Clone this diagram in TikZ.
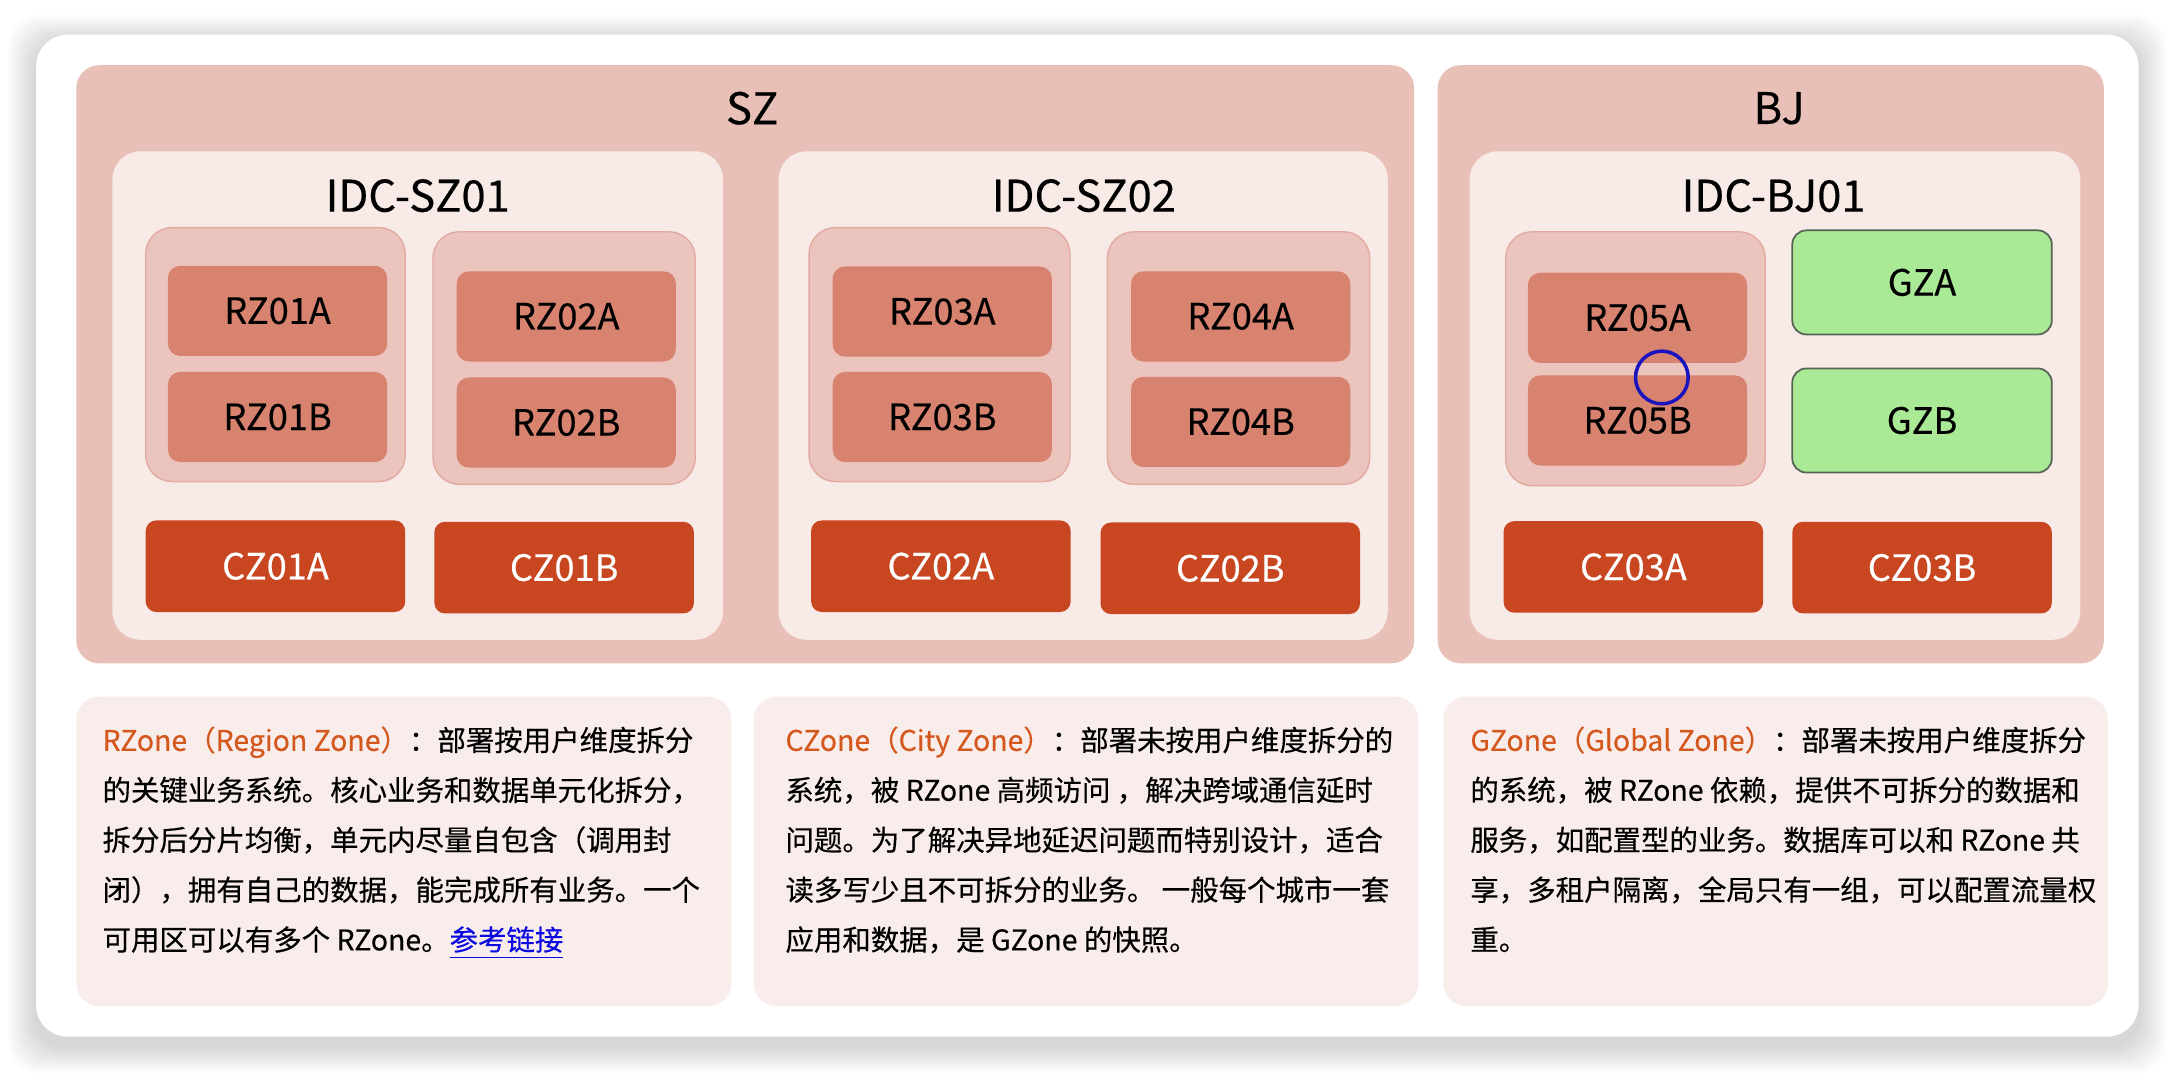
\documentclass[tikz,border=0pt]{standalone}
\usepackage{fontspec}
\setmainfont{Noto Sans CJK SC}[FakeBold=0.35]
\usepackage{tikz}
\usetikzlibrary{positioning}
\definecolor{roseregion}{RGB}{232,192,183}
\definecolor{roseidc}{RGB}{248,234,231}
\definecolor{rosegrp}{RGB}{235,197,189}
\definecolor{bordgrp}{RGB}{226,170,160}
\definecolor{rougerz}{RGB}{216,130,112}
\definecolor{rougecz}{RGB}{200,71,33}
\definecolor{vertgz}{RGB}{170,233,150}
\definecolor{bordgz}{RGB}{85,100,85}
\definecolor{rosedesc}{RGB}{249,237,235}
\definecolor{orangetxt}{RGB}{212,88,30}
\definecolor{bleulien}{RGB}{10,10,225}
\definecolor{bleurond}{RGB}{25,20,190}

\def\px{0.01388cm}
\newcommand\descfont{\fontsize{8.1}{14.2}\selectfont}
\newcommand\boxfont{\fontsize{10.3}{12}\selectfont}

\tikzset{
  region/.style={fill=roseregion,rounded corners=6.5pt},
  idc/.style={fill=roseidc,rounded corners=8pt},
  grp/.style={fill=rosegrp,draw=bordgrp,line width=0.4pt,rounded corners=7.5pt},
  rzbox/.style={fill=rougerz,rounded corners=3.5pt,minimum width=158*\px,minimum height=65*\px,font=\boxfont},
  czbox/.style={fill=rougecz,text=white,rounded corners=3pt,minimum width=187*\px,minimum height=66*\px,font=\boxfont},
  gzbox/.style={fill=vertgz,draw=bordgz,line width=0.5pt,rounded corners=4pt,minimum width=187*\px,minimum height=75*\px,font=\boxfont},
  titre/.style={font=\fontsize{12.4}{14}\selectfont},
  desc/.style={fill=rosedesc,rounded corners=6.5pt},
  desctxt/.style={anchor=north west,inner sep=0pt,align=left,font=\descfont},
}

\begin{document}
\begin{tikzpicture}[x=\px,y=-\px]
  \useasboundingbox (0,0) rectangle (1568,774);
  \fill[white] (0,0) rectangle (1568,774);
  % soft shadow under the card
  \foreach \s in {2,4,...,20}{\fill[black,opacity=0.014,rounded corners=9pt] (26-\s,25-\s+6) rectangle (1541+\s,747+\s+6);}
  \fill[white,rounded corners=9pt] (26,25) rectangle (1541,747);

  % regions and IDCs
  \fill[region] (55,47) rectangle (1019,478);
  \fill[region] (1036,47) rectangle (1516,478);
  \fill[idc] (81,109) rectangle (521,461);
  \fill[idc] (561,109) rectangle (1000,461);
  \fill[idc] (1059,109) rectangle (1499,461);
  \node[titre] (sz) at (542,78) {SZ};
  \node[titre] (bj) at (1282,78) {BJ};
  \node[titre] (idcsz01) at (301,141) {IDC-SZ01};
  \node[titre] (idcsz02) at (781,141) {IDC-SZ02};
  \node[titre] (idcbj01) at (1278,141) {IDC-BJ01};

  % RZone groups
  \foreach \xa/\ya/\xb/\yb in {105/164/292/347,312/167/501/349,583/164/771/347,798/167/987/349,1085/167/1272/350}
    \draw[grp] (\xa,\ya) rectangle (\xb,\yb);
  \foreach \nn/\xx/\yy/\dy in {01/200/224/76.5,02/408/228/76.5,03/679/224.5/76,04/894/228/76,05/1180/229/74}{
    \node[rzbox] (rz\nn a) at (\xx,\yy) {RZ\nn A};
    \node[rzbox] (rz\nn b) at (\xx,\yy+\dy) {RZ\nn B};
  }
  \node[gzbox] (gza) at (1385,203.5) {GZA};
  \node[gzbox] (gzb) at (1385,303) {GZB};
  \foreach \nn/\xx/\yy in {01A/198.5/408,01B/406.5/409,02A/678/408,02B/886.5/409.5,03A/1177/408.5,03B/1385/409}
    \node[czbox] (cz\nn) at (\xx,\yy) {CZ\nn};
  \draw[bleurond,line width=1pt] (1197.5,272) circle[radius=7.5pt];

  % descriptions
  \fill[desc] (55,502) rectangle (527,725);
  \fill[desc] (543,502) rectangle (1022,725);
  \fill[desc] (1040,502) rectangle (1519,725);
  \node[desctxt] (rzdesc) at (73.4,523) {\textcolor{orangetxt}{RZone（Region Zone）}：部署按用户维度拆分\\
    的关键业务系统。核心业务和数据单元化拆分，\\
    拆分后分片均衡，单元内尽量自包含（调用封\\
    闭），拥有自己的数据，能完成所有业务。一个\\
    可用区可以有多个 RZone。\textcolor{bleulien}{\underline{参考链接}}};
  \node[desctxt] (czdesc) at (565.5,523) {\textcolor{orangetxt}{CZone（City Zone）}：部署未按用户维度拆分的\\
    系统，被 RZone 高频访问 ，解决跨域通信延时\\
    问题。为了解决异地延迟问题而特别设计，适合\\
    读多写少且不可拆分的业务。 一般每个城市一套\\
    应用和数据，是 GZone 的快照。};
  \node[desctxt] (gzdesc) at (1059,523) {\textcolor{orangetxt}{GZone（Global Zone）}：部署未按用户维度拆分\\
    的系统，被 RZone 依赖，提供不可拆分的数据和\\
    服务，如配置型的业务。数据库可以和 RZone 共\\
    享，多租户隔离，全局只有一组，可以配置流量权\\
    重。};
\end{tikzpicture}
\end{document}
